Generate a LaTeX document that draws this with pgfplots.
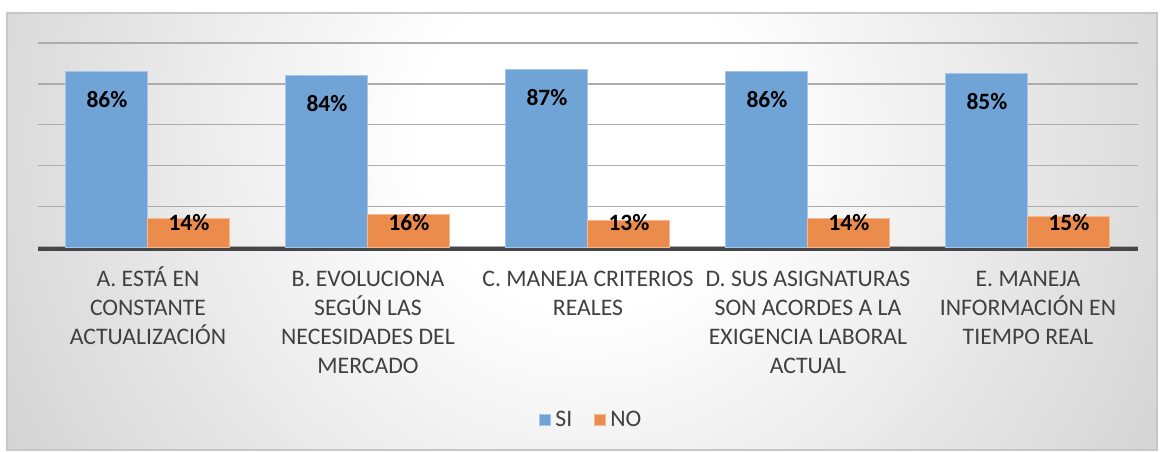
\documentclass[border=0pt]{standalone}
\usepackage{pgfplots}
\pgfplotsset{compat=1.18}
\usepackage{fontspec}
\setmainfont{Carlito}
\definecolor{siblue}{RGB}{112,164,214}
\definecolor{siedge}{RGB}{165,198,232}
\definecolor{noorange}{RGB}{235,140,76}
\definecolor{noedge}{RGB}{245,185,145}
\definecolor{labgray}{RGB}{64,64,64}
\definecolor{gridc}{RGB}{172,172,172}
\definecolor{axisc}{RGB}{70,70,70}
\pgfdeclareradialshading{chartbg}{\pgfpointorigin}{color(0bp)=(white); color(6bp)=(white); color(34bp)=(black!27); color(45bp)=(black!32)}
\begin{document}
\begin{tikzpicture}
\useasboundingbox (0,0) rectangle (582pt,225.5pt);
\begin{scope}
\clip (3.5pt,0.5pt) rectangle (578.5pt,219pt);
\shade[shading=chartbg] (-57.5pt,-194.5pt) rectangle (642.5pt,505.5pt);
\end{scope}
\draw[black!22, line width=0.6pt] (3.5pt,0.5pt) rectangle (578.5pt,219pt);
\begin{axis}[
  at={(19pt,102pt)}, anchor=south west,
  scale only axis, width=550pt, height=102pt,
  xmin=-0.5, xmax=4.5, ymin=0, ymax=100,
  ybar=0pt, bar width=41pt,
  /pgf/number format/assume math mode=true,
  axis x line*=bottom, axis y line*=left,
  y axis line style={draw=none},
  x axis line style={draw=axisc, line width=2pt, yshift=-1pt, -},
  ytick={0,20,40,60,80,100}, yticklabels={},
  ymajorgrids, y grid style={gridc, line width=0.7pt},
  xtick={0,1,2,3,4},
  xticklabels={
    {\strut A. ESTÁ EN\\CONSTANTE\\ACTUALIZACIÓN},
    {\strut B. EVOLUCIONA\\SEGÚN LAS\\NECESIDADES DEL\\MERCADO},
    {\strut C. MANEJA CRITERIOS\\REALES},
    {\strut D. SUS ASIGNATURAS\\SON ACORDES A LA\\EXIGENCIA LABORAL\\ACTUAL},
    {\strut E. MANEJA\\INFORMACIÓN EN\\TIEMPO REAL}},
  major tick length=0pt,
  xticklabel style={align=center, anchor=north, inner sep=0pt,
    font=\fontsize{11.85}{14.5}\selectfont, text=labgray},
  xticklabel shift=9.15pt,
  legend style={at={(0.504,-0.848)}, anchor=center, draw=none, fill=none,
    legend columns=2, font=\fontsize{11.85}{14.5}\selectfont, text=labgray,
    /tikz/every even column/.append style={column sep=9pt}},
  legend image code/.code={\fill[#1] (0pt,-2.75pt) rectangle (5.5pt,2.75pt);},
  clip=false,
]
\addplot[fill=siblue, draw=siedge, line width=0.5pt,
  nodes near coords={\pgfmathprintnumber{\pgfplotspointmeta}\%},
  every node near coord/.append style={font=\fontsize{11.7}{14}\selectfont\bfseries, text=black, anchor=center, yshift=-14pt}]
  coordinates {(0,86) (1,84) (2,87) (3,86) (4,85)};
\addplot[fill=noorange, draw=noedge, line width=0.5pt,
  visualization depends on={rawy \as \rawy},
  nodes near coords={\pgfmathprintnumber{\pgfplotspointmeta}\%},
  every node near coord/.append style={font=\fontsize{11.7}{14}\selectfont\bfseries, text=black, anchor=center, yshift={(12-\rawy)*1.02pt}}]
  coordinates {(0,14) (1,16) (2,13) (3,14) (4,15)};
\legend{SI,NO}
\end{axis}
\end{tikzpicture}
\end{document}
